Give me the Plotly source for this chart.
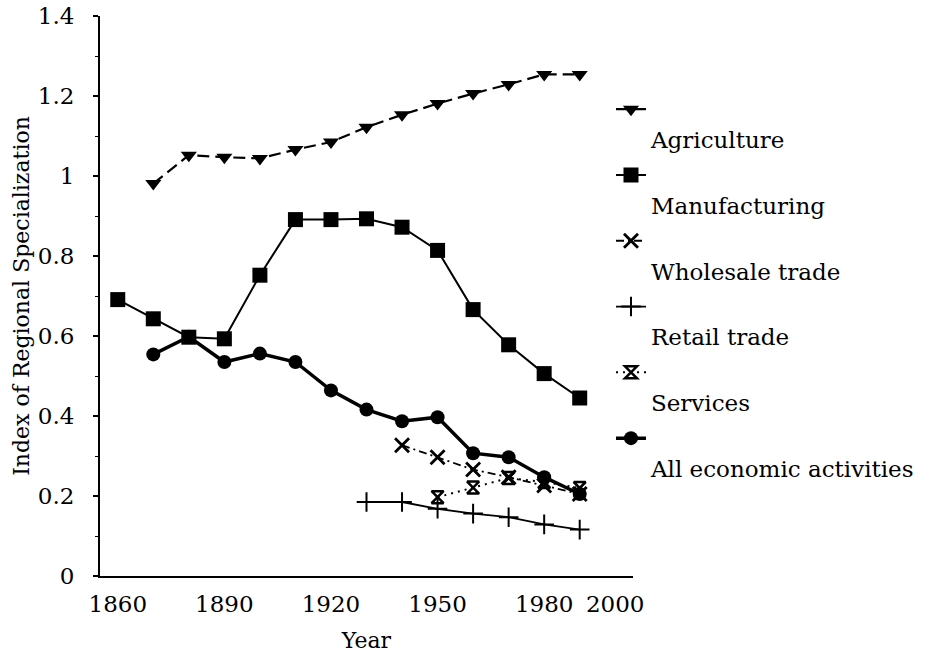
import plotly.graph_objects as go

# ---- data ----
years = [1860, 1870, 1880, 1890, 1900, 1910, 1920, 1930, 1940, 1950, 1960, 1970, 1980, 1990]

agri_years = [1870, 1880, 1890, 1900, 1910, 1920, 1930, 1940, 1950, 1960, 1970, 1980, 1990]
agriculture = [0.981, 1.052, 1.047, 1.044, 1.066, 1.085, 1.122, 1.153, 1.181, 1.206, 1.229, 1.254, 1.254]

manufacturing = [0.691, 0.643, 0.597, 0.593, 0.752, 0.891, 0.891, 0.893, 0.872, 0.814, 0.666, 0.578, 0.506, 0.445]

wholesale_years = [1940, 1950, 1960, 1970, 1980, 1990]
wholesale = [0.327, 0.297, 0.266, 0.247, 0.226, 0.205]

retail_years = [1930, 1940, 1950, 1960, 1970, 1980, 1990]
retail = [0.185, 0.185, 0.168, 0.156, 0.147, 0.129, 0.116]

services_years = [1950, 1960, 1970, 1980, 1990]
services = [0.197, 0.221, 0.245, 0.235, 0.220]

all_years = [1870, 1880, 1890, 1900, 1910, 1920, 1930, 1940, 1950, 1960, 1970, 1980, 1990]
all_activities = [0.554, 0.598, 0.535, 0.556, 0.535, 0.464, 0.416, 0.387, 0.397, 0.307, 0.297, 0.247, 0.205]

x_tick_vals = [1860, 1890, 1920, 1950, 1980, 2000]
x_tick_text = ["1860", "1890", "1920", "1950", "1980", "2000"]

FONT = "DejaVu Serif"

fig = go.Figure()

def add(x, y, name, symbol, size, dash, lw, mlw=0):
    fig.add_trace(go.Scatter(
        x=x, y=y, name="<br>" + name, mode="lines+markers",
        legendgroup=name,
        line=dict(color="black", width=lw, dash=dash),
        marker=dict(symbol=symbol, size=size, color="black",
                    line=dict(color="black", width=mlw)),
    ))

add(agri_years, agriculture, "Agriculture", "triangle-down", 14, "12px,6px", 2.2)
add(years, manufacturing, "Manufacturing", "square", 15, "solid", 2)
add(wholesale_years, wholesale, "Wholesale trade", "x-thin-open", 14, "8px,4px,2px,4px", 1.8, 2.8)
add(retail_years, retail, "Retail trade", "cross-thin-open", 14, "solid", 1.8, 2)
add(services_years, services, "Services", "hourglass-open", 12, "2px,5px", 2, 2.5)
add(all_years, all_activities, "All economic activities", "circle", 14, "solid", 3.5)

fig.update_layout(
    width=933, height=653,
    margin=dict(l=100, r=300, t=16, b=77),
    paper_bgcolor="white", plot_bgcolor="white",
    font=dict(family=FONT, color="black", size=22),
    showlegend=True,
    legend=dict(
        x=0.9587, y=0.872, xanchor="left", yanchor="top",
        font=dict(family=FONT, size=23, color="black"),
        valign="top", tracegroupgap=3, itemwidth=30,
        bgcolor="rgba(0,0,0,0)",
    ),
)

fig.update_xaxes(
    range=[1855, 2005], tickmode="array", tickvals=x_tick_vals, ticktext=x_tick_text,
    showline=True, linecolor="black", linewidth=2, ticks="", showgrid=False, zeroline=False,
    automargin=False,
    tickfont=dict(family=FONT, size=23), ticklabelstandoff=6,
    title=dict(text="Year", font=dict(family=FONT, size=22), standoff=18),
)
fig.update_yaxes(
    range=[0, 1.4], dtick=0.2, tick0=0,
    showline=True, linecolor="black", linewidth=2, showgrid=False, zeroline=False,
    automargin=False, ticklabeloverflow="allow",
    ticks="outside", ticklen=5, tickwidth=1.5, tickcolor="black",
    minor=dict(dtick=0.1, ticks="outside", ticklen=3, tickcolor="black", tickwidth=1),
    tickfont=dict(family=FONT, size=23), ticklabelstandoff=14,
    title=dict(text="Index of Regional Specialization", font=dict(family=FONT, size=22), standoff=2),
)

fig.write_html("out.html", config={"displayModeBar": False},
               post_script="document.body.style.margin='0';")
